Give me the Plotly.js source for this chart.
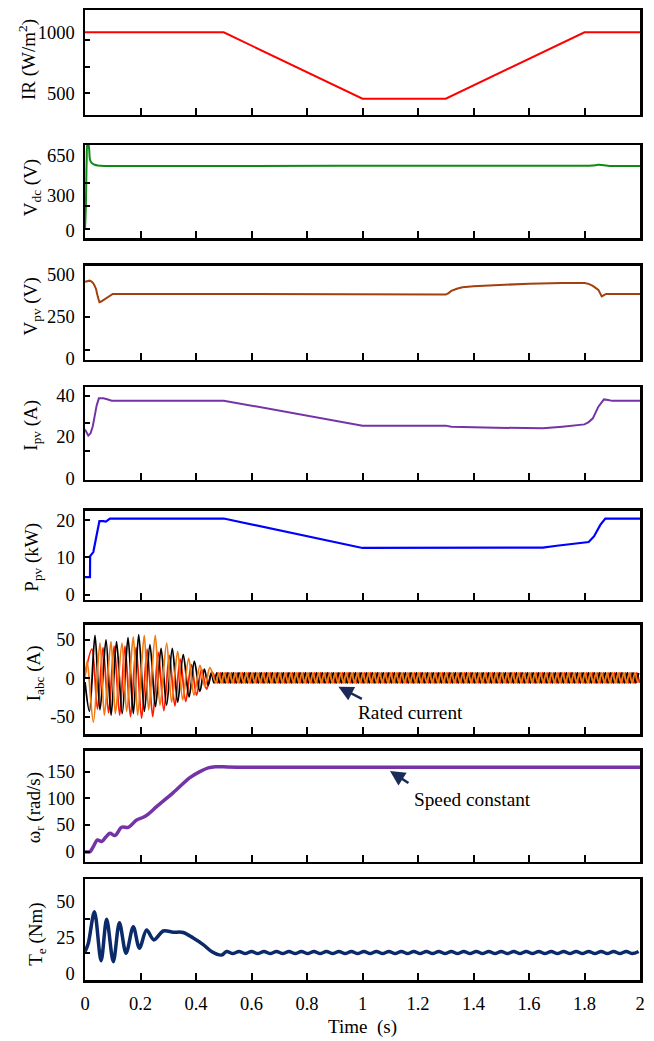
<!DOCTYPE html>
<html><head><meta charset="utf-8">
<script src="https://cdn.plot.ly/plotly-3.0.1.min.js"></script>
<style>html,body{margin:0;padding:0;background:#fff}#chart{width:654px;height:1041px}</style>
</head><body><div id="chart"></div>
<script>
// ---------- data ----------
const xTickVals = [0, 0.2, 0.4, 0.6, 0.8, 1, 1.2, 1.4, 1.6, 1.8, 2];
const xTickText = ['0', '0.2', '0.4', '0.6', '0.8', '1', '1.2', '1.4', '1.6', '1.8', '2'];

// Irradiance
const tIR = [0, 0.5, 1.0, 1.3, 1.8, 2.0];
const vIR = [1000, 1000, 455, 455, 1000, 1000];

// DC link voltage
const tVdc = [0, 0.003, 0.006, 0.009, 0.012, 0.015, 0.018, 0.023, 0.028, 0.035, 0.045, 0.07, 0.5, 1.3, 1.8, 1.83, 1.85, 1.87, 1.89, 2.0];
const vVdc = [0, 200, 600, 745, 745, 700, 610, 585, 575, 566, 560, 556, 556, 557, 557, 560, 565, 562, 556, 556];

// PV voltage
const tVpv = [0, 0.016, 0.024, 0.03, 0.035, 0.04, 0.046, 0.052, 0.058, 0.066, 0.075, 0.084, 0.092, 0.1, 0.5, 0.999, 1.001, 1.3, 1.31, 1.32, 1.34, 1.36, 1.4, 1.48, 1.6, 1.72, 1.8, 1.815, 1.83, 1.85, 1.862, 1.87, 1.878, 1.9, 2.0];
const vVpv = [460, 466, 460, 450, 435, 415, 371, 338, 342, 351, 361, 371, 380, 387, 387, 387, 383, 383, 392, 405, 418, 427, 433, 440, 448, 452, 452, 447, 435, 411, 372, 380, 387, 386, 386];

// PV current
const tIpv = [0, 0.004, 0.012, 0.02, 0.028, 0.035, 0.042, 0.05, 0.066, 0.08, 0.096, 0.5, 1.0, 1.3, 1.32, 1.48, 1.65, 1.72, 1.8, 1.815, 1.83, 1.85, 1.87, 1.885, 1.9, 2.0];
const vIpv = [23.5, 22.7, 20.5, 21.6, 25, 30, 35, 38.4, 38.4, 38, 37.3, 37.3, 25.3, 25.3, 24.8, 24.3, 24, 24.8, 25.9, 27, 28.8, 34.4, 37.9, 37.6, 37.2, 37.2];

// PV power
const tPpv = [0, 0.018, 0.0185, 0.03, 0.042, 0.052, 0.066, 0.075, 0.09, 0.5, 1.0, 1.3, 1.65, 1.7, 1.815, 1.834, 1.857, 1.875, 2.0];
const vPpv = [4.7, 4.7, 10.3, 11.4, 16, 19.7, 19.7, 19.6, 20.4, 20.4, 12.5, 12.5, 12.6, 13.1, 14.1, 15.6, 18.7, 20.4, 20.4];

// Stator currents: extrema of each phase (start-up part)
const tIa0 = [0, 0.016, 0.036, 0.054, 0.0757, 0.094, 0.1136, 0.134, 0.155, 0.174, 0.1935, 0.214, 0.234, 0.254, 0.274, 0.294, 0.3146, 0.334, 0.354, 0.375, 0.394, 0.414, 0.43, 0.444, 0.455];
const vIa0 = [-5, -43, 56, -41, 50, -48, 48, -46, 53, -46, 57, -43, 44, -37, 39, -35, 39, -31, 31, -24, 22, -17, 12, -9, 7];
const tIb0 = [0, 0.008, 0.030, 0.054, 0.0697, 0.0937, 0.1093, 0.1333, 0.150, 0.174, 0.1898, 0.2135, 0.2294, 0.2533, 0.2703, 0.2943, 0.3123, 0.334, 0.352, 0.3736, 0.3928, 0.4144, 0.4324, 0.45];
const vIb0 = [0, 22, -57, 46, -48, 48, -46, 46, -43, 54, -48, 56, -41, 56, -35, 46, -31, 35, -28, 26, -22, 17, -11, 14];
const tIc0 = [0, 0.025, 0.045, 0.065, 0.085, 0.105, 0.125, 0.144, 0.164, 0.184, 0.204, 0.224, 0.244, 0.264, 0.284, 0.304, 0.324, 0.343, 0.363, 0.383, 0.402, 0.42, 0.438, 0.458];
const vIc0 = [5, 38, -40, 40, -45, 42, -48, 42, -50, 40, -52, 38, -50, 34, -42, 30, -36, 25, -30, 18, -22, 12, -14, 8];

// Stator currents: extrema of each phase (steady part, rated current)
const tIa1 = [0.465,0.475,0.485,0.495,0.505,0.515,0.525,0.535,0.545,0.555,0.565,0.575,0.585,0.595,0.605,0.615,0.625,0.635,0.645,0.655,0.665,0.675,0.685,0.695,0.705,0.715,0.725,0.735,0.745,0.755,0.765,0.775,0.785,0.795,0.805,0.815,0.825,0.835,0.845,0.855,0.865,0.875,0.885,0.895,0.905,0.915,0.925,0.935,0.945,0.955,0.965,0.975,0.985,0.995,1.005,1.015,1.025,1.035,1.045,1.055,1.065,1.075,1.085,1.095,1.105,1.115,1.125,1.135,1.145,1.155,1.165,1.175,1.185,1.195,1.205,1.215,1.225,1.235,1.245,1.255,1.265,1.275,1.285,1.295,1.305,1.315,1.325,1.335,1.345,1.355,1.365,1.375,1.385,1.395,1.405,1.415,1.425,1.435,1.445,1.455,1.465,1.475,1.485,1.495,1.505,1.515,1.525,1.535,1.545,1.555,1.565,1.575,1.585,1.595,1.605,1.615,1.625,1.635,1.645,1.655,1.665,1.675,1.685,1.695,1.705,1.715,1.725,1.735,1.745,1.755,1.765,1.775,1.785,1.795,1.805,1.815,1.825,1.835,1.845,1.855,1.865,1.875,1.885,1.895,1.905,1.915,1.925,1.935,1.945,1.955,1.965,1.975,1.985,1.995];
const vIa1 = [-6,7,-6,7,-6,7,-6,7,-6,7,-6,7,-6,7,-6,7,-6,7,-6,7,-6,7,-6,7,-6,7,-6,7,-6,7,-6,7,-6,7,-6,7,-6,7,-6,7,-6,7,-6,7,-6,7,-6,7,-6,7,-6,7,-6,7,-6,7,-6,7,-6,7,-6,7,-6,7,-6,7,-6,7,-6,7,-6,7,-6,7,-6,7,-6,7,-6,7,-6,7,-6,7,-6,7,-6,7,-6,7,-6,7,-6,7,-6,7,-6,7,-6,7,-6,7,-6,7,-6,7,-6,7,-6,7,-6,7,-6,7,-6,7,-6,7,-6,7,-6,7,-6,7,-6,7,-6,7,-6,7,-6,7,-6,7,-6,7,-6,7,-6,7,-6,7,-6,7,-6,7,-6,7,-6,7,-6,7,-6,7];
const tIb1 = [0.4717,0.4817,0.4917,0.5017,0.5117,0.5217,0.5317,0.5417,0.5517,0.5617,0.5717,0.5817,0.5917,0.6017,0.6117,0.6217,0.6317,0.6417,0.6517,0.6617,0.6717,0.6817,0.6917,0.7017,0.7117,0.7217,0.7317,0.7417,0.7517,0.7617,0.7717,0.7817,0.7917,0.8017,0.8117,0.8217,0.8317,0.8417,0.8517,0.8617,0.8717,0.8817,0.8917,0.9017,0.9117,0.9217,0.9317,0.9417,0.9517,0.9617,0.9717,0.9817,0.9917,1.0017,1.0117,1.0217,1.0317,1.0417,1.0517,1.0617,1.0717,1.0817,1.0917,1.1017,1.1117,1.1217,1.1317,1.1417,1.1517,1.1617,1.1717,1.1817,1.1917,1.2017,1.2117,1.2217,1.2317,1.2417,1.2517,1.2617,1.2717,1.2817,1.2917,1.3017,1.3117,1.3217,1.3317,1.3417,1.3517,1.3617,1.3717,1.3817,1.3917,1.4017,1.4117,1.4217,1.4317,1.4417,1.4517,1.4617,1.4717,1.4817,1.4917,1.5017,1.5117,1.5217,1.5317,1.5417,1.5517,1.5617,1.5717,1.5817,1.5917,1.6017,1.6117,1.6217,1.6317,1.6417,1.6517,1.6617,1.6717,1.6817,1.6917,1.7017,1.7117,1.7217,1.7317,1.7417,1.7517,1.7617,1.7717,1.7817,1.7917,1.8017,1.8117,1.8217,1.8317,1.8417,1.8517,1.8617,1.8717,1.8817,1.8917,1.9017,1.9117,1.9217,1.9317,1.9417,1.9517,1.9617,1.9717,1.9817,1.9917];
const vIb1 = [-6,7,-6,7,-6,7,-6,7,-6,7,-6,7,-6,7,-6,7,-6,7,-6,7,-6,7,-6,7,-6,7,-6,7,-6,7,-6,7,-6,7,-6,7,-6,7,-6,7,-6,7,-6,7,-6,7,-6,7,-6,7,-6,7,-6,7,-6,7,-6,7,-6,7,-6,7,-6,7,-6,7,-6,7,-6,7,-6,7,-6,7,-6,7,-6,7,-6,7,-6,7,-6,7,-6,7,-6,7,-6,7,-6,7,-6,7,-6,7,-6,7,-6,7,-6,7,-6,7,-6,7,-6,7,-6,7,-6,7,-6,7,-6,7,-6,7,-6,7,-6,7,-6,7,-6,7,-6,7,-6,7,-6,7,-6,7,-6,7,-6,7,-6,7,-6,7,-6,7,-6,7,-6,7,-6,7,-6,7,-6,7,-6];
const tIc1 = [0.4783,0.4883,0.4983,0.5083,0.5183,0.5283,0.5383,0.5483,0.5583,0.5683,0.5783,0.5883,0.5983,0.6083,0.6183,0.6283,0.6383,0.6483,0.6583,0.6683,0.6783,0.6883,0.6983,0.7083,0.7183,0.7283,0.7383,0.7483,0.7583,0.7683,0.7783,0.7883,0.7983,0.8083,0.8183,0.8283,0.8383,0.8483,0.8583,0.8683,0.8783,0.8883,0.8983,0.9083,0.9183,0.9283,0.9383,0.9483,0.9583,0.9683,0.9783,0.9883,0.9983,1.0083,1.0183,1.0283,1.0383,1.0483,1.0583,1.0683,1.0783,1.0883,1.0983,1.1083,1.1183,1.1283,1.1383,1.1483,1.1583,1.1683,1.1783,1.1883,1.1983,1.2083,1.2183,1.2283,1.2383,1.2483,1.2583,1.2683,1.2783,1.2883,1.2983,1.3083,1.3183,1.3283,1.3383,1.3483,1.3583,1.3683,1.3783,1.3883,1.3983,1.4083,1.4183,1.4283,1.4383,1.4483,1.4583,1.4683,1.4783,1.4883,1.4983,1.5083,1.5183,1.5283,1.5383,1.5483,1.5583,1.5683,1.5783,1.5883,1.5983,1.6083,1.6183,1.6283,1.6383,1.6483,1.6583,1.6683,1.6783,1.6883,1.6983,1.7083,1.7183,1.7283,1.7383,1.7483,1.7583,1.7683,1.7783,1.7883,1.7983,1.8083,1.8183,1.8283,1.8383,1.8483,1.8583,1.8683,1.8783,1.8883,1.8983,1.9083,1.9183,1.9283,1.9383,1.9483,1.9583,1.9683,1.9783,1.9883,1.9983];
const vIc1 = [-6,7,-6,7,-6,7,-6,7,-6,7,-6,7,-6,7,-6,7,-6,7,-6,7,-6,7,-6,7,-6,7,-6,7,-6,7,-6,7,-6,7,-6,7,-6,7,-6,7,-6,7,-6,7,-6,7,-6,7,-6,7,-6,7,-6,7,-6,7,-6,7,-6,7,-6,7,-6,7,-6,7,-6,7,-6,7,-6,7,-6,7,-6,7,-6,7,-6,7,-6,7,-6,7,-6,7,-6,7,-6,7,-6,7,-6,7,-6,7,-6,7,-6,7,-6,7,-6,7,-6,7,-6,7,-6,7,-6,7,-6,7,-6,7,-6,7,-6,7,-6,7,-6,7,-6,7,-6,7,-6,7,-6,7,-6,7,-6,7,-6,7,-6,7,-6,7,-6,7,-6,7,-6,7,-6,7,-6,7,-6,7,-6];

// Rotor speed
const tWr = [0, 0.018, 0.030, 0.045, 0.06, 0.076, 0.09, 0.108, 0.132, 0.156, 0.186, 0.21, 0.228, 0.258, 0.318, 0.378, 0.414, 0.444, 0.47, 0.5, 0.55, 2.0];
const vWr = [0, 0, 9.4, 22, 19, 28, 34.6, 30.2, 45.7, 45.7, 59.4, 64.4, 70.6, 84.4, 110.6, 138.8, 150, 157, 159.3, 159, 158.5, 158.5];

// Electromagnetic torque
const tTe0 = [0, 0.012, 0.034, 0.058, 0.078, 0.102, 0.124, 0.148, 0.174, 0.196, 0.222, 0.248, 0.282, 0.318, 0.354, 0.39, 0.426, 0.456, 0.492];
const vTe0 = [15, 21, 43, 8.8, 37.7, 8.1, 35.3, 14, 32.5, 17.5, 30.2, 23.3, 29.5, 28.7, 28.5, 24.6, 20, 15.2, 12.7];
const tTe1 = [0.5100,0.5325,0.5550,0.5775,0.6000,0.6225,0.6450,0.6675,0.6900,0.7125,0.7350,0.7575,0.7800,0.8025,0.8250,0.8475,0.8700,0.8925,0.9150,0.9375,0.9600,0.9825,1.0050,1.0275,1.0500,1.0725,1.0950,1.1175,1.1400,1.1625,1.1850,1.2075,1.2300,1.2525,1.2750,1.2975,1.3200,1.3425,1.3650,1.3875,1.4100,1.4325,1.4550,1.4775,1.5000,1.5225,1.5450,1.5675,1.5900,1.6125,1.6350,1.6575,1.6800,1.7025,1.7250,1.7475,1.7700,1.7925,1.8150,1.8375,1.8600,1.8825,1.9050,1.9275,1.9500,1.9725,1.9950];
const vTe1 = [15.2,13.8,15.2,13.8,15.2,13.8,15.2,13.8,15.2,13.8,15.2,13.8,15.2,13.8,15.2,13.8,15.2,13.8,15.2,13.8,15.2,13.8,15.2,13.8,15.2,13.8,15.2,13.8,15.2,13.8,15.2,13.8,15.2,13.8,15.2,13.8,15.2,13.8,15.2,13.8,15.2,13.8,15.2,13.8,15.2,13.8,15.2,13.8,15.2,13.8,15.2,13.8,15.2,13.8,15.2,13.8,15.2,13.8,15.2,13.8,15.2,13.8,15.2,13.8,15.2,13.8,15.2];

// y tick labels
const yTicks = [
  {vals: [500, 1000], text: ['500', '1000']},
  {vals: [0, 300, 650], text: ['0', '300', '650']},
  {vals: [0, 250, 500], text: ['0', '250', '500']},
  {vals: [0, 20, 40], text: ['0', '20', '40']},
  {vals: [0, 10, 20], text: ['0', '10', '20']},
  {vals: [-50, 0, 50], text: ['-50', '0', '50']},
  {vals: [0, 50, 100, 150], text: ['0', '50', '100', '150']},
  {vals: [0, 25, 50], text: ['0', '25', '50']}
];
const yTitles = ['IR (W/m<sup>2</sup>)', 'V<sub>dc</sub> (V)', 'V<sub>pv</sub> (V)', 'I<sub>pv</sub> (A)',
  'P<sub>pv</sub> (kW)', 'I<sub>abc</sub> (A)', 'ω<sub>r</sub> (rad/s)', 'T<sub>e</sub> (Nm)'];

// ---------- layout (positions / styles) ----------
const FONT = "'Liberation Serif', 'Times New Roman', serif";
// marks: where the reference draws its y tick marks (they do not sit on the labels)
const panels = [
  {dom: [0.8918, 1.0],    range: [322, 1183],   tx: -0.1027, ty: 0.9485, marks: [939, 718, 500]},
  {dom: [0.7646, 0.8608], range: [-72, 737],    tx: -0.096,  ty: 0.817,  marks: [405, 208, 11]},
  {dom: [0.6392, 0.7364], range: [-6, 555],     tx: -0.096,  ty: 0.6941, marks: [250, 54]},
  {dom: [0.5155, 0.6110], range: [-0.8, 43.7],  tx: -0.096,  ty: 0.5722, marks: [39.7, 26.4, 13.2]},
  {dom: [0.3918, 0.4838], range: [-1.45, 22.5], tx: -0.0937, ty: 0.4364, marks: null},
  {dom: [0.2536, 0.3660], range: [-72.6, 69.6], tx: -0.0901, ty: 0.3162, marks: null},
  {dom: [0.1220, 0.2361], range: [-18.75, 188.8], tx: -0.0901, ty: 0.178, marks: null},
  {dom: [0.0, 0.1038],    range: [-4.7, 65.6],  tx: -0.087,  ty: 0.0474, marks: [37.7, 14]}
];

const ax = i => (i === 0 ? '' : String(i + 1));
const traces = [];
function addLine(i, x, y, color, width, spline) {
  traces.push({
    type: 'scatter', mode: 'lines', x: x, y: y,
    xaxis: 'x' + ax(i), yaxis: 'y' + ax(i),
    line: {color: color, width: width, shape: spline ? 'spline' : 'linear', smoothing: 0.9},
    hoverinfo: 'skip', showlegend: false
  });
}
addLine(0, tIR, vIR, '#ff0000', 2, false);
addLine(1, tVdc, vVdc, '#0f8a14', 2, true);
addLine(2, tVpv, vVpv, '#a3400e', 2, false);
addLine(3, tIpv, vIpv, '#7434a8', 2, false);
addLine(4, tPpv, vPpv, '#0000ff', 2.2, false);
addLine(5, tIc0.concat(tIc1), vIc0.concat(vIc1), '#ff1a00', 1.8, true);
addLine(5, tIa0.concat(tIa1), vIa0.concat(vIa1), '#000000', 1.8, true);
addLine(5, tIb0.concat(tIb1), vIb0.concat(vIb1), '#f07a10', 1.8, true);
addLine(6, tWr, vWr, '#7434a8', 3.5, true);
addLine(7, tTe0.concat(tTe1), vTe0.concat(vTe1), '#0b2a6a', 3.5, true);

const layout = {
  width: 654, height: 1041,
  margin: {l: 85, r: 14, t: 10, b: 61, pad: 0},
  paper_bgcolor: '#fff', plot_bgcolor: '#fff',
  font: {family: FONT, size: 18, color: '#000'},
  showlegend: false,
  annotations: []
};
panels.forEach((p, i) => {
  const last = i === panels.length - 1;
  layout['xaxis' + ax(i)] = {
    domain: [0, 1], range: [0, 2], anchor: 'y' + ax(i),
    showline: true, mirror: true, linewidth: 2.5, linecolor: '#000',
    ticks: 'inside', ticklen: 7, tickwidth: 2, tickcolor: '#000',
    tickmode: 'array', tickvals: last ? xTickVals : xTickVals.slice(1, -1),
    ticktext: last ? xTickText : xTickText.slice(1, -1),
    showticklabels: last, ticklabelstandoff: 5,
    tickfont: {family: FONT, size: 18.5},
    showgrid: false, zeroline: false, fixedrange: true
  };
  const y = {
    domain: p.dom, range: p.range, anchor: 'x' + ax(i),
    showline: true, mirror: true, linewidth: 2.5, linecolor: '#000',
    ticks: 'inside', ticklen: 5, tickwidth: 2, tickcolor: '#000',
    tickmode: 'array', tickvals: yTicks[i].vals, ticktext: yTicks[i].text,
    ticklabelstandoff: 4, tickfont: {family: FONT, size: 18.5},
    showgrid: false, zeroline: false, fixedrange: true
  };
  if (p.marks) {
    y.ticks = '';
    y.minor = {tickmode: 'array', tickvals: p.marks, ticks: 'inside', ticklen: 5, tickwidth: 2, tickcolor: '#000', showgrid: false};
  }
  layout['yaxis' + ax(i)] = y;
  layout.annotations.push({
    xref: 'paper', yref: 'paper', x: p.tx, y: p.ty, xanchor: 'center', yanchor: 'middle',
    text: yTitles[i], textangle: -90, showarrow: false, font: {family: FONT, size: 19}
  });
});
// x title
layout.annotations.push({
  xref: 'paper', yref: 'paper', x: 0.5, y: -0.0485, xanchor: 'center', yanchor: 'middle',
  text: 'Time\u00a0 (s)', showarrow: false, font: {family: FONT, size: 19}
});
// callouts
const ARROW = '#1c2a5a';
layout.annotations.push(
  {xref: 'x6', yref: 'y6', x: 0.913, y: -10.9, ax: 25, ay: 13, text: '', showarrow: true,
   arrowhead: 2, arrowsize: 1.2, arrowwidth: 2.5, arrowcolor: ARROW},
  {xref: 'x6', yref: 'y6', x: 1.173, y: -43.9, text: 'Rated current', showarrow: false,
   xanchor: 'center', yanchor: 'middle', font: {family: FONT, size: 19.3}},
  {xref: 'x7', yref: 'y7', x: 1.099, y: 151.3, ax: 20, ay: 13, text: '', showarrow: true,
   arrowhead: 2, arrowsize: 1.2, arrowwidth: 2.5, arrowcolor: ARROW},
  {xref: 'x7', yref: 'y7', x: 1.395, y: 96.9, text: 'Speed constant', showarrow: false,
   xanchor: 'center', yanchor: 'middle', font: {family: FONT, size: 19.3}}
);

Plotly.newPlot('chart', traces, layout, {staticPlot: true, displayModeBar: false});
</script></body></html>
